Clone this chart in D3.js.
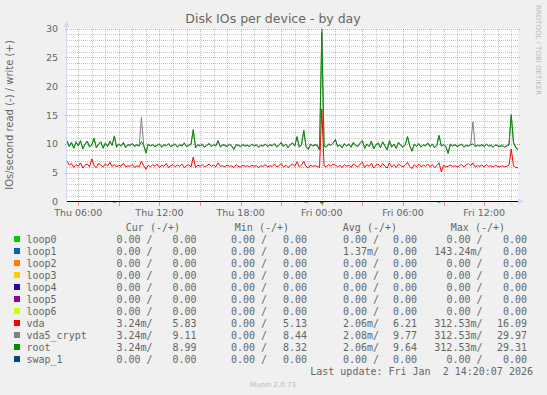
<!DOCTYPE html>
<html>
<head>
<meta charset="utf-8">
<script src="https://cdn.jsdelivr.net/npm/d3@7"></script>
<style>
    body { margin: 0; background: #f0f0f0; }
    svg { display: block; }
    text { font-family: "DejaVu Sans", sans-serif; fill: #666; }
    .mono { font-family: "DejaVu Sans Mono", monospace; font-size: 10px; white-space: pre; }
</style>
</head>
<body>
<div id="grafico"></div>
<script>
// Samples every 10 minutes, starting Thu 05:10
const inicio = new Date(2026, 0, 1, 5, 10);
const fim = new Date(2026, 0, 2, 14, 30);
const passoMin = 10;

// root (write, IOs/s)
const rootWrite = [
    10.5, 9.5, 10.2, 9.2, 10.3, 9.6, 10.5, 9.1, 9.9, 10.4,
    9.4, 9.8, 10.9, 9.3, 9.9, 10.3, 9.2, 10.1, 9.5, 10.4,
    9.7, 11.3, 9.4, 9.9, 9.6, 10.2, 9.3, 9.8, 9.7, 10.0,
    9.5, 9.8, 9.6, 10.4, 9.7, 8.4, 9.9, 9.6, 9.8, 9.5,
    9.7, 9.9, 9.4, 9.8, 9.6, 10.0, 9.5, 9.7, 9.9, 9.4,
    9.8, 9.6, 10.1, 9.5, 9.7, 9.9, 12.4, 9.3, 9.8, 9.6,
    9.9, 9.4, 9.7, 10.0, 9.5, 9.8, 9.6, 10.5, 9.4, 9.8,
    9.7, 9.5, 9.9, 9.6, 9.0, 9.8, 9.7, 9.5, 9.8, 9.6,
    9.7, 9.5, 9.9, 9.6, 9.8, 9.4, 9.7, 9.6, 9.9, 9.5,
    9.8, 9.6, 10.0, 9.4, 9.7, 10.2, 9.5, 9.9, 9.3, 9.8,
    10.1, 9.6, 11.2, 9.4, 9.8, 12.3, 9.5, 9.0, 9.9, 9.6,
    9.8, 9.7, 8.9, 29.31, 9.6, 9.4, 9.9, 9.7, 10.1, 10.7,
    9.5, 9.8, 9.3, 10.0, 9.6, 9.9, 9.4, 10.2, 9.7, 9.5,
    10.1, 10.5, 9.2, 9.9, 9.5, 10.4, 9.1, 9.8, 10.1, 9.3,
    10.3, 9.6, 8.9, 10.5, 9.4, 9.9, 9.2, 10.2, 9.7, 9.4,
    9.8, 11.2, 9.6, 8.7, 9.9, 9.5, 10.0, 9.4, 9.8, 9.6,
    10.1, 9.5, 9.9, 9.3, 9.7, 11.4, 9.6, 9.8, 9.5, 8.32,
    9.9, 9.6, 9.8, 9.5, 9.7, 9.9, 9.4, 9.7, 9.6, 9.8,
    10.0, 9.5, 9.7, 9.6, 9.8, 9.5, 9.9, 9.6, 9.7, 9.4,
    9.8, 9.6, 9.5, 9.7, 9.4, 9.6, 9.8, 15.0, 10.2, 9.3,
    8.99
];

// vda5_crypt (write)
const cryptWrite = [
    10.6, 9.6, 10.3, 9.3, 10.4, 9.7, 10.6, 9.2, 10.0, 10.5,
    9.5, 9.9, 11.0, 9.4, 10.0, 10.4, 9.3, 10.2, 9.6, 10.5,
    9.8, 11.4, 9.5, 10.0, 9.7, 10.3, 9.4, 9.9, 9.8, 10.1,
    9.6, 9.9, 9.7, 14.6, 9.8, 8.5, 10.0, 9.7, 9.9, 9.6,
    9.8, 10.0, 9.5, 9.9, 9.7, 10.1, 9.6, 9.8, 10.0, 9.5,
    9.9, 9.7, 10.2, 9.6, 9.8, 10.0, 12.5, 9.4, 9.9, 9.7,
    10.0, 9.5, 9.8, 10.1, 9.6, 9.9, 9.7, 10.6, 9.5, 9.9,
    9.8, 9.6, 10.0, 9.7, 9.1, 9.9, 9.8, 9.6, 9.9, 9.7,
    9.8, 9.6, 10.0, 9.7, 9.9, 9.5, 9.8, 9.7, 10.0, 9.6,
    9.9, 9.7, 10.1, 9.5, 9.8, 10.3, 9.6, 10.0, 9.4, 9.9,
    10.2, 9.7, 11.3, 9.5, 9.9, 12.4, 9.6, 9.1, 10.0, 9.7,
    9.9, 9.8, 9.0, 29.97, 9.7, 9.5, 10.0, 9.8, 10.2, 10.8,
    9.6, 9.9, 9.4, 10.1, 9.7, 10.0, 9.5, 10.3, 9.8, 9.6,
    10.2, 10.6, 9.3, 10.0, 9.6, 10.5, 9.2, 9.9, 10.2, 9.4,
    10.4, 9.7, 9.0, 10.6, 9.5, 10.0, 9.3, 10.3, 9.8, 9.5,
    9.9, 11.3, 9.7, 8.8, 10.0, 9.6, 10.1, 9.5, 9.9, 9.7,
    10.2, 9.6, 10.0, 9.4, 9.8, 11.5, 9.7, 9.9, 9.6, 8.44,
    10.0, 9.7, 9.9, 9.6, 9.8, 10.0, 9.5, 9.8, 9.7, 9.9,
    13.8, 9.6, 9.8, 9.7, 9.9, 9.6, 10.0, 9.7, 9.8, 9.5,
    9.9, 9.7, 9.6, 9.8, 9.5, 9.7, 9.9, 15.1, 10.3, 9.4,
    9.11
];

// vda (write)
const vdaWrite = [
    7.0, 6.3, 6.6, 5.9, 6.4, 6.1, 6.7, 5.8, 6.3, 6.5,
    6.0, 7.4, 6.2, 5.9, 6.6, 6.3, 6.0, 6.5, 6.2, 6.8,
    6.1, 6.4, 6.0, 6.3, 6.1, 6.6, 6.0, 6.2, 6.1, 6.4,
    5.9, 6.2, 6.0, 7.0, 6.2, 5.6, 6.3, 6.0, 6.4, 6.1,
    6.5, 5.9, 6.3, 6.1, 6.6, 5.9, 6.2, 6.4, 6.0, 6.3,
    6.1, 6.5, 5.9, 6.2, 6.4, 6.0, 7.7, 5.9, 6.3, 6.1,
    6.4, 6.0, 6.2, 6.5, 6.1, 6.3, 6.0, 6.7, 6.1, 6.2,
    6.0, 6.3, 6.1, 6.2, 5.9, 6.4, 6.1, 6.0, 6.3, 6.1,
    6.2, 6.0, 6.3, 6.1, 6.2, 5.9, 6.2, 6.1, 6.4, 6.0,
    6.2, 6.1, 6.5, 6.0, 6.2, 6.6, 6.0, 6.3, 5.9, 6.2,
    6.5, 6.1, 6.9, 6.0, 6.3, 7.0, 6.1, 5.8, 6.3, 6.1,
    6.2, 6.1, 5.9, 16.09, 6.2, 6.0, 6.4, 6.1, 6.5, 6.3,
    6.0, 6.3, 5.9, 6.4, 6.1, 6.3, 5.9, 6.5, 6.2, 6.0,
    6.5, 6.8, 5.9, 6.4, 6.1, 6.6, 5.8, 6.3, 6.5, 6.0,
    6.6, 6.1, 5.8, 6.7, 6.0, 6.4, 5.9, 6.5, 6.2, 6.0,
    6.3, 6.8, 6.1, 5.7, 6.4, 6.0, 6.5, 6.0, 6.3, 6.1,
    6.5, 6.0, 6.4, 5.9, 6.2, 6.7, 5.13, 6.3, 6.0, 6.1,
    6.3, 6.1, 6.2, 6.0, 6.2, 6.4, 6.0, 6.3, 6.6, 6.2,
    6.7, 6.0, 6.2, 6.1, 6.3, 6.0, 6.4, 6.1, 6.2, 6.0,
    6.3, 6.1, 6.0, 6.2, 6.0, 6.1, 6.3, 9.1, 6.2, 5.9,
    5.83
];

// reads (drawn negative): [sample index, IOs/s]
const loop1Reads = [[21, 0.143], [106, 0.14], [165, 0.12]];
const vdaReads = [[113, 0.3125]];

// legend
const devices = ["loop0", "loop1", "loop2", "loop3", "loop4", "loop5", "loop6", "vda", "vda5_crypt", "root", "swap_1"];
const colors = ["#00cc00", "#0066b3", "#ff8000", "#ffcc00", "#330099", "#990099", "#ccff00", "#ff0000", "#808080", "#008f00", "#00487d"];
const curRead  = ["0.00 ", "0.00 ", "0.00 ", "0.00 ", "0.00 ", "0.00 ", "0.00 ", "3.24m", "3.24m", "3.24m", "0.00 "];
const curWrite = ["0.00", "0.00", "0.00", "0.00", "0.00", "0.00", "0.00", "5.83", "9.11", "8.99", "0.00"];
const minRead  = ["0.00 ", "0.00 ", "0.00 ", "0.00 ", "0.00 ", "0.00 ", "0.00 ", "0.00 ", "0.00 ", "0.00 ", "0.00 "];
const minWrite = ["0.00", "0.00", "0.00", "0.00", "0.00", "0.00", "0.00", "5.13", "8.44", "8.32", "0.00"];
const avgRead  = ["0.00 ", "1.37m", "0.00 ", "0.00 ", "0.00 ", "0.00 ", "0.00 ", "2.06m", "2.08m", "2.06m", "0.00 "];
const avgWrite = ["0.00", "0.00", "0.00", "0.00", "0.00", "0.00", "0.00", "6.21", "9.77", "9.64", "0.00"];
const maxRead  = ["0.00 ", "143.24m", "0.00 ", "0.00 ", "0.00 ", "0.00 ", "0.00 ", "312.53m", "312.53m", "312.53m", "0.00 "];
const maxWrite = ["0.00", "0.00", "0.00", "0.00", "0.00", "0.00", "0.00", "16.09", "29.97", "29.31", "0.00"];

const yTicks = [0, 5, 10, 15, 20, 25, 30];

document.addEventListener('DOMContentLoaded', () => {
    desenharGrafico();
});

function desenharGrafico() {
    const width = 547;
    const height = 395;
    const x0 = 67, x1 = 518, yTop = 28.5, yZero = 201.5;

    const svg = d3.select("#grafico")
        .append("svg")
        .attr("width", width)
        .attr("height", height);

    svg.append("rect").attr("width", width).attr("height", height).attr("fill", "#f0f0f0");

    const xScale = d3.scaleTime().domain([inicio, fim]).range([x0, x1]);
    const yScale = d3.scaleLinear().domain([0, 30]).range([yZero, yTop]);
    const tempo = i => new Date(inicio.getTime() + i * passoMin * 60000);

    // canvas
    svg.append("rect")
        .attr("x", x0).attr("y", yTop)
        .attr("width", x1 - x0).attr("height", yZero - yTop)
        .attr("fill", "#fff");

    // grid
    const grid = svg.append("g").attr("shape-rendering", "crispEdges");
    const minorY = d3.range(1, 30).filter(v => v % 5 !== 0);
    grid.selectAll(".gy").data(minorY).enter().append("line")
        .attr("x1", x0).attr("x2", x1)
        .attr("y1", d => Math.round(yScale(d)) + 0.5).attr("y2", d => Math.round(yScale(d)) + 0.5)
        .attr("stroke", "rgba(144,144,144,0.5)").attr("stroke-dasharray", "1,1");
    const horas = xScale.ticks(d3.timeHour.every(1)).filter(d => d.getHours() % 3 !== 0);
    grid.selectAll(".gx").data(horas).enter().append("line")
        .attr("x1", d => Math.round(xScale(d)) + 0.5).attr("x2", d => Math.round(xScale(d)) + 0.5)
        .attr("y1", yTop).attr("y2", yZero + 2)
        .attr("stroke", "rgba(144,144,144,0.5)").attr("stroke-dasharray", "1,1");
    grid.selectAll(".gym").data(yTicks.filter(v => v > 0)).enter().append("line")
        .attr("x1", x0 - 2).attr("x2", x1 + 2)
        .attr("y1", d => Math.round(yScale(d)) + 0.5).attr("y2", d => Math.round(yScale(d)) + 0.5)
        .attr("stroke", "rgba(224,80,80,0.5)").attr("stroke-dasharray", "1,1");
    const horasMaior = xScale.ticks(d3.timeHour.every(3));
    grid.selectAll(".gxm").data(horasMaior).enter().append("line")
        .attr("x1", d => Math.round(xScale(d)) + 0.5).attr("x2", d => Math.round(xScale(d)) + 0.5)
        .attr("y1", yTop).attr("y2", yZero)
        .attr("stroke", "rgba(224,80,80,0.5)").attr("stroke-dasharray", "1,1");
    // tick marks below the axis
    grid.selectAll(".tm").data(horasMaior).enter().append("line")
        .attr("x1", d => Math.round(xScale(d)) + 0.5).attr("x2", d => Math.round(xScale(d)) + 0.5)
        .attr("y1", yZero).attr("y2", yZero + 4)
        .attr("stroke", "rgba(224,80,80,0.6)");

    // axes
    svg.append("line").attr("x1", x0 - 0.5).attr("x2", x0 - 0.5).attr("y1", yZero).attr("y2", 24)
        .attr("stroke", "#cfd6f8");
    svg.append("line").attr("x1", x0).attr("x2", x1 + 2).attr("y1", yZero).attr("y2", yZero)
        .attr("stroke", "#cfd6f8");
    svg.append("path").attr("d", `M${x0 - 0.5},21 L${x0 - 3.5},27 L${x0 + 2.5},27 Z`).attr("fill", "#cfd6f8");
    svg.append("path").attr("d", `M${x1 + 6},${yZero} L${x1},${yZero - 3} L${x1},${yZero + 3} Z`).attr("fill", "#cfd6f8");

    // series
    const plot = svg.append("g");
    svg.append("clipPath").attr("id", "clip").append("rect")
        .attr("x", x0).attr("y", yTop - 1).attr("width", x1 - x0).attr("height", yZero - yTop + 4);
    plot.attr("clip-path", "url(#clip)");

    const linha = d3.line()
        .x((d, i) => xScale(tempo(i)))
        .y(d => yScale(d));

    const nAmostras = rootWrite.length;
    const linhaZero = cor => plot.append("path")
        .attr("d", `M${xScale(inicio)},${yScale(0)}H${xScale(tempo(nAmostras - 1))}`)
        .attr("stroke", cor).attr("fill", "none");

    const picoLeitura = (eventos, cor) => {
        eventos.forEach(([i, v]) => {
            plot.append("path")
                .attr("d", `M${xScale(tempo(i - 1))},${yScale(0)}L${xScale(tempo(i))},${yScale(-v)}L${xScale(tempo(i + 1))},${yScale(0)}`)
                .attr("stroke", cor).attr("fill", "none");
        });
    };

    for (let k = 0; k < 7; k++) linhaZero(colors[k]);
    picoLeitura(loop1Reads, colors[1]);

    plot.append("path").datum(vdaWrite).attr("d", linha)
        .attr("stroke", colors[7]).attr("fill", "none");
    picoLeitura(vdaReads, colors[7]);
    plot.append("path").datum(cryptWrite).attr("d", linha)
        .attr("stroke", colors[8]).attr("fill", "none");
    picoLeitura(vdaReads, colors[8]);
    plot.append("path").datum(rootWrite).attr("d", linha)
        .attr("stroke", colors[9]).attr("fill", "none");
    picoLeitura(vdaReads, colors[9]);
    linhaZero(colors[10]);

    // zero line
    svg.append("line").attr("x1", x0).attr("x2", x1).attr("y1", yZero).attr("y2", yZero)
        .attr("stroke", "#000").attr("shape-rendering", "crispEdges");

    // axis labels
    svg.selectAll(".ylab").data(yTicks).enter().append("text")
        .attr("x", 58).attr("y", d => yScale(d) + 3.5)
        .attr("text-anchor", "end").attr("font-size", "9.5px")
        .text(d => d);
    const fmt = d3.timeFormat("%a %H:%M");
    svg.selectAll(".xlab").data(xScale.ticks(d3.timeHour.every(6))).enter().append("text")
        .attr("x", d => xScale(d)).attr("y", 216)
        .attr("text-anchor", "middle").attr("font-size", "9.5px")
        .text(d => fmt(d));

    // titles
    svg.append("text").attr("x", 273).attr("y", 23).attr("text-anchor", "middle")
        .attr("font-size", "12.5px").text("Disk IOs per device - by day");
    svg.append("text").attr("transform", "translate(13,115) rotate(-90)")
        .attr("text-anchor", "middle").attr("font-size", "10px")
        .text("IOs/second read (-) / write (+)");
    svg.append("text").attr("transform", "translate(536,5) rotate(90)")
        .attr("font-size", "7px").style("fill", "#bbb")
        .text("RRDTOOL / TOBI OETIKER");
    svg.append("text").attr("x", 273).attr("y", 387).attr("text-anchor", "middle")
        .attr("font-size", "7px").style("fill", "#bbb")
        .text("Munin 2.0.73");

    // legend
    const leg = svg.append("g").attr("class", "mono");
    const headers = [["Cur (-/+)", 180], ["Min (-/+)", 289], ["Avg (-/+)", 397], ["Max (-/+)", 505]];
    headers.forEach(([t, x]) => {
        leg.append("text").attr("class", "mono").attr("x", x).attr("y", 231).attr("text-anchor", "end").text(t);
    });
    const colunas = [
        [curRead, 152.5, "/"], [curWrite, 196.5, ""],
        [minRead, 267, "/"], [minWrite, 307, ""],
        [avgRead, 379, "/"], [avgWrite, 417, ""],
        [maxRead, 482.5, "/"], [maxWrite, 527, ""]
    ];
    devices.forEach((nome, i) => {
        const y = 243 + i * 12;
        leg.append("rect").attr("x", 14).attr("y", y - 7).attr("width", 6).attr("height", 6).attr("fill", colors[i]);
        leg.append("text").attr("class", "mono").attr("x", 26.5).attr("y", y).text(nome);
        colunas.forEach(([arr, x, suf]) => {
            leg.append("text").attr("class", "mono").attr("x", x).attr("y", y)
                .attr("text-anchor", "end").text(arr[i] + suf);
        });
    });
    leg.append("text").attr("class", "mono").attr("x", 533).attr("y", 375)
        .attr("text-anchor", "end").text("Last update: Fri Jan  2 14:20:07 2026");
}
</script>
</body>
</html>
